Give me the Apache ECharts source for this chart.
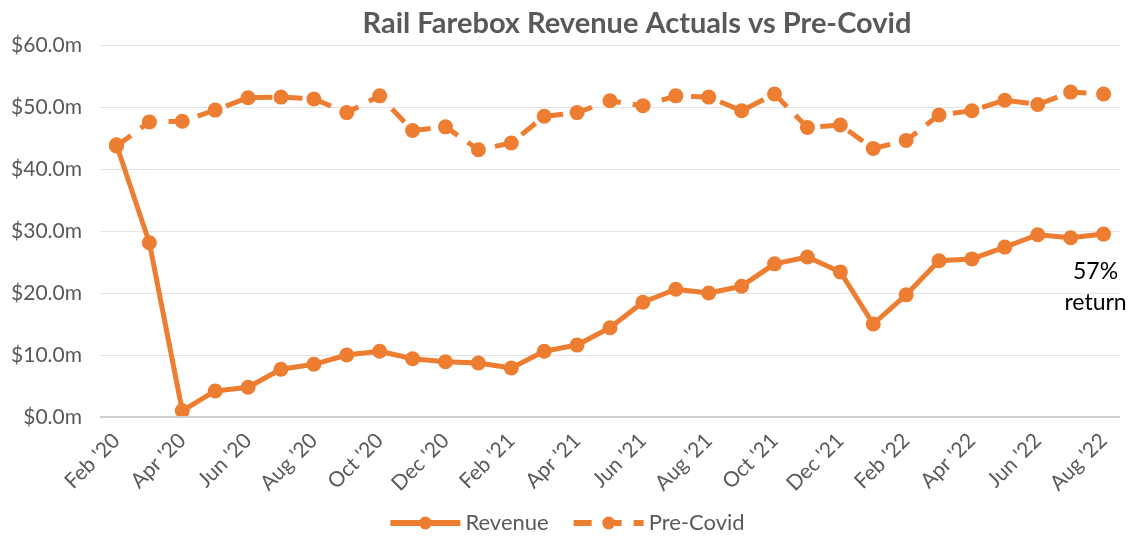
<!DOCTYPE html>
<html><head><meta charset="utf-8">
<script src="https://cdn.jsdelivr.net/npm/echarts@6/dist/echarts.min.js"></script>
<style>html,body{margin:0;padding:0;background:#fff}#c{width:1132px;height:539px}</style>
</head><body><div id="c"></div>
<script>
var categories = ["Feb '20","Mar '20","Apr '20","May '20","Jun '20","Jul '20","Aug '20","Sep '20","Oct '20","Nov '20","Dec '20","Jan '21",
"Feb '21","Mar '21","Apr '21","May '21","Jun '21","Jul '21","Aug '21","Sep '21","Oct '21","Nov '21","Dec '21","Jan '22",
"Feb '22","Mar '22","Apr '22","May '22","Jun '22","Jul '22","Aug '22"];
var revenue = [43.9,28.1,1.0,4.2,4.8,7.7,8.5,10.0,10.6,9.4,8.9,8.7,7.9,10.6,11.6,14.4,18.5,20.6,20.0,21.1,24.7,25.8,23.4,15.0,19.7,25.2,25.5,27.4,29.4,28.9,29.5];
var preCovid = [43.7,47.6,47.7,49.5,51.5,51.6,51.3,49.1,51.8,46.2,46.8,43.1,44.2,48.5,49.1,51.0,50.2,51.8,51.6,49.4,52.1,46.7,47.1,43.3,44.6,48.7,49.4,51.1,50.4,52.4,52.1];
var yTicks = [0,10,20,30,40,50,60];
var annotation = "57%\nreturn";

var font = "Lato, 'Noto Sans', sans-serif";
var orange = '#ED7D31';
var revData = revenue.map(function(v,i){
  if(i===revenue.length-1){
    return {value:v,label:{show:true,formatter:annotation,position:'bottom',distance:14,offset:[-8,0],
      color:'#000',fontSize:23,lineHeight:31,fontFamily:font,align:'center'}};
  }
  return v;
});
var chart = echarts.init(document.getElementById('c'));
chart.setOption({
  animation:false,
  title:{text:'Rail Farebox Revenue Actuals vs Pre-Covid',left:632,textAlign:'center',top:4,
    textStyle:{fontFamily:font,fontWeight:'bold',fontSize:29,color:'#595959'}},
  grid:{left:100,right:12,top:45,bottom:122},
  legend:{bottom:0,left:'center',itemWidth:70,itemHeight:16,itemGap:22,
    lineStyle:{width:6},
    textStyle:{fontFamily:font,fontSize:22,color:'#595959'},
    data:['Revenue','Pre-Covid']},
  xAxis:{type:'category',data:categories,boundaryGap:true,
    axisLine:{show:false},axisTick:{show:false},
    axisLabel:{interval:1,rotate:45,fontFamily:font,fontSize:21,color:'#595959',margin:20}},
  yAxis:{type:'value',min:yTicks[0],max:yTicks[yTicks.length-1],interval:10,
    axisLine:{show:false},axisTick:{show:false},
    axisLabel:{fontFamily:font,fontSize:21,color:'#595959',margin:18,
      formatter:function(v){return '$'+v.toFixed(1)+'m';}},
    splitLine:{lineStyle:{color:'#e3e3e3',width:1}}},
  series:[
    {name:'Revenue',type:'line',data:revData,symbol:'circle',symbolSize:15,
      lineStyle:{color:orange,width:5},itemStyle:{color:orange},
      markLine:{silent:true,symbol:'none',label:{show:false},lineStyle:{color:'#d0d0d0',width:2,type:'solid'},data:[{yAxis:0}]}},
    {name:'Pre-Covid',type:'line',data:preCovid,symbol:'circle',symbolSize:15,
      lineStyle:{color:orange,width:5,type:[18,12]},itemStyle:{color:orange}}
  ]
});
</script></body></html>
